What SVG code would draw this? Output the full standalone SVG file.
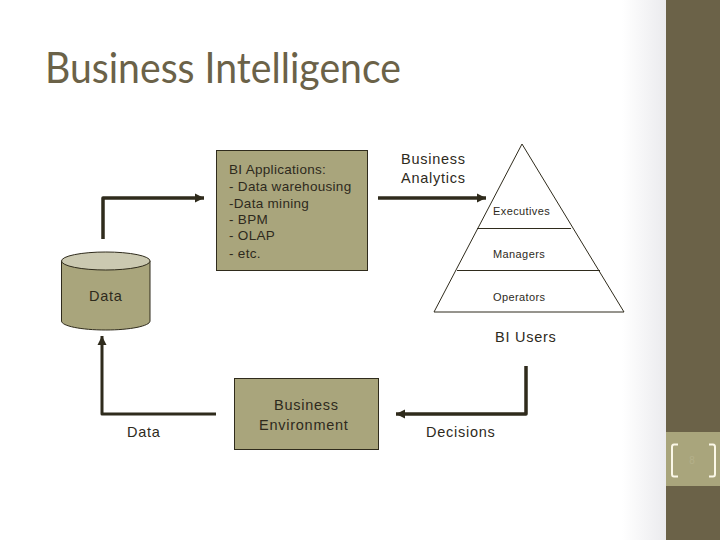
<svg xmlns="http://www.w3.org/2000/svg" width="720" height="540" viewBox="0 0 720 540">
<style>
.t{font-family:"Liberation Sans",Arial,sans-serif;fill:#2e2a1c}
.s14{font-size:14.5px;letter-spacing:.75px}.s11{font-size:11px;letter-spacing:.4px}.s13{font-size:13.5px;letter-spacing:.3px}
.box{fill:#a9a57c;stroke:#2f2b1c;stroke-width:1}
.arrow{fill:none;stroke:#2f2b1c;stroke-width:3.500;stroke-linejoin:round}
.thin{fill:none;stroke:#2f2b1c;stroke-width:1}
</style>
<defs>
<linearGradient id="shade" x1="0" x2="1" y1="0" y2="0"><stop offset="0" stop-color="#ffffff"/><stop offset="1" stop-color="#ebebee"/></linearGradient>
<marker id="head" markerUnits="userSpaceOnUse" markerWidth="10" markerHeight="10" refX="9" refY="5" orient="auto"><path d="M0 0.500L9 5L0 9.500Z" fill="#2f2b1c"/></marker>
</defs>
<rect width="720" height="540" fill="#ffffff"/>
<rect x="622" width="44" height="540" fill="url(#shade)"/>
<g id="sidebar">
<rect x="666" width="54" height="540" fill="#6b6248"/>
<rect x="666" y="432" width="54" height="54" fill="#a9a57c"/>
<path d="M678 444.500H674Q672 444.500 672 447V474Q672 476.500 674 476.500H678M709 444.500H713Q715 444.500 715 447V474Q715 476.500 713 476.500H709" fill="none" stroke="#fbf8e8" stroke-width="2"/>
<text x="692" y="464" class="t" style="font-size:10px;fill:#b4b08a" text-anchor="middle">8</text>
</g>
<g id="title"><text x="45" y="83" textLength="356" lengthAdjust="spacingAndGlyphs" style="font-family:Lato,'Open Sans',sans-serif;font-size:42px;fill:#6b6248">Business Intelligence</text></g>
<g id="connectors">
<path class="arrow" d="M103 239V198H204" marker-end="url(#head)"/>
<path class="arrow" d="M378 198H486" marker-end="url(#head)"/>
<path class="arrow" d="M526 366V414H396" marker-end="url(#head)"/>
<path class="arrow" style="stroke-width:3" d="M216 414H102V336" marker-end="url(#head)"/>
</g>
<g id="bi-applications">
<rect class="box" x="216.500" y="150.500" width="151" height="120"/>
<text class="t s13" x="229" y="174">BI Applications:</text>
<text class="t s13" x="229" y="191">- Data warehousing</text>
<text class="t s13" x="229" y="208">-Data mining</text>
<text class="t s13" x="229" y="224">- BPM</text>
<text class="t s13" x="229" y="240">- OLAP</text>
<text class="t s13" x="229" y="258">- etc.</text>
</g>
<g id="data-store">
<path class="box" d="M61.500 261V321C61.500 326 81 330 105.800 330C130 330 150 326 150 321V261Z"/>
<ellipse cx="105.800" cy="261" rx="44.300" ry="9" fill="#cbc9b1" stroke="#2f2b1c"/>
<text class="t s14" x="89" y="301">Data</text>
</g>
<g id="pyramid">
<path class="thin" d="M522 144L624 312H434Z"/>
<path class="thin" d="M477 228.500H571M457 270.500H600"/>
<text class="t s11" x="493" y="215">Executives</text>
<text class="t s11" x="493" y="258">Managers</text>
<text class="t s11" x="493" y="301">Operators</text>
</g>
<g id="business-environment">
<rect class="box" x="234.500" y="378.500" width="144" height="71"/>
<text class="t s14" x="274" y="410">Business</text>
<text class="t s14" x="259" y="430">Environment</text>
</g>
<g id="labels">
<text class="t s14" x="401" y="164">Business</text>
<text class="t s14" x="401" y="183">Analytics</text>
<text class="t s14" x="495" y="342">BI Users</text>
<text class="t s14" x="127" y="437">Data</text>
<text class="t s14" x="426" y="437">Decisions</text>
</g>
</svg>
